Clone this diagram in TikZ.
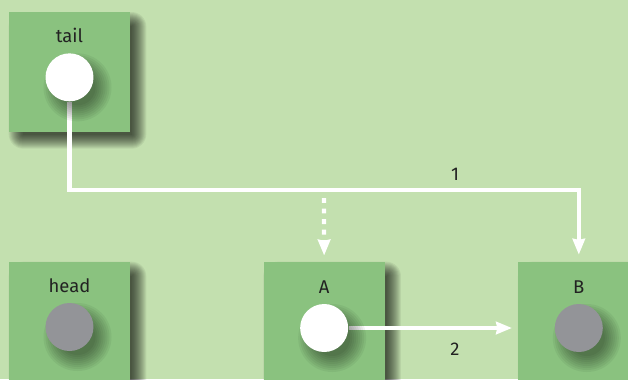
\documentclass[tikz,border=0pt]{standalone}
\usepackage{fontspec}
\setsansfont{Fira Sans}
\usetikzlibrary{arrows.meta, positioning}
\definecolor{bgGreen}{HTML}{C3E0AF}
\definecolor{boxGreen}{HTML}{8AC27F}
\definecolor{ptrGray}{HTML}{939498}
\definecolor{txtDark}{HTML}{222222}
\pgfdeclarelayer{boxshade}
\pgfdeclarelayer{boxes}
\pgfdeclarelayer{ptrshade}
\pgfsetlayers{boxshade,boxes,ptrshade,main}

\begin{document}
\begin{tikzpicture}[
  x=0.02cm, y=-0.02cm,
  every node/.style={font=\sffamily\fontsize{10.5}{12}\selectfont, text=txtDark},
  cellbox/.style={fill=boxGreen, minimum width=2.42cm, minimum height=2.4cm, inner sep=0pt},
  ptr/.style={circle, minimum size=0.96cm, inner sep=0pt},
  ptrset/.style={ptr, fill=white},
  ptrnull/.style={ptr, fill=ptrGray},
  tag/.style={anchor=base},
  shade/.style={fill=black, opacity=0.058},
  link/.style={draw=white, line width=2.4pt, -{Stealth[length=9pt, width=7pt, inset=0.6pt]}},
  maybe/.style={link, dash pattern=on 2.8pt off 3.2pt},
]
% background and page size
\begin{pgfonlayer}{boxshade}
\fill[bgGreen] (0,0) rectangle (628,379);
\end{pgfonlayer}
\useasboundingbox (0,0) rectangle (628,379);

% list cells
\begin{pgfonlayer}{boxes}
\node[cellbox] (headbox) at (69.5,322) {};
\node[cellbox, right=2.66cm of headbox] (Abox) {};
\node[cellbox, right=2.66cm of Abox] (Bbox) {};
\node[cellbox, above=2.58cm of headbox] (tailbox) {};
\end{pgfonlayer}

% pointers
\node[ptrset] (tailptr) at ([yshift=-0.1cm]tailbox.center) {};
\node[ptrnull] (headptr) at ([yshift=-0.1cm]headbox.center) {};
\node[ptrset] (Aptr) at ([yshift=-0.12cm]Abox.center) {};
\node[ptrnull] (Bptr) at ([yshift=-0.12cm]Bbox.center) {};

% soft shadows
\begin{pgfonlayer}{boxshade}
\foreach \b in {tailbox, headbox, Abox, Bbox}
  \foreach \d in {-6,...,8}{
    \pgfmathsetmacro\rc{(\d+6)*0.6}
    \fill[shade, rounded corners=\rc pt] ([shift={(8-\d,8-\d)}]\b.north west) rectangle ([shift={(8+\d,8+\d)}]\b.south east);
  }
\end{pgfonlayer}
\begin{pgfonlayer}{ptrshade}
\foreach \p in {tailptr, headptr, Aptr, Bptr}
  \foreach \r in {18,20,...,34}
    \fill[shade, opacity=0.05] ([shift={(8,10)}]\p.center) circle[radius=\r];
\end{pgfonlayer}

% names
\node[tag] (tailtxt) at ([yshift=0.7cm]tailptr.center) {tail};
\node[tag] (headtxt) at ([yshift=0.7cm]headptr.center) {head};
\node[tag] (Atxt) at ([yshift=0.7cm]Aptr.center) {A};
\node[tag] (Btxt) at ([yshift=0.7cm]Bptr.center) {B};

% links (under the pointer shadows)
\coordinate (turn) at (324,190);
\coordinate (dotstart) at (324,198);
\begin{pgfonlayer}{boxes}
\draw[link, shorten >=4pt] (tailptr.south) |- (turn) -| (Bbox.north);
\draw[maybe, shorten >=3.5pt] (dotstart) -- (Abox.north);
\draw[link, shorten >=3.4pt] (Aptr.east) -- (Aptr.east -| Bbox.west);
\end{pgfonlayer}

% step numbers
\node (onetxt) at (455,174) {1};
\node (twotxt) at (455,349) {2};

\end{tikzpicture}
\end{document}
